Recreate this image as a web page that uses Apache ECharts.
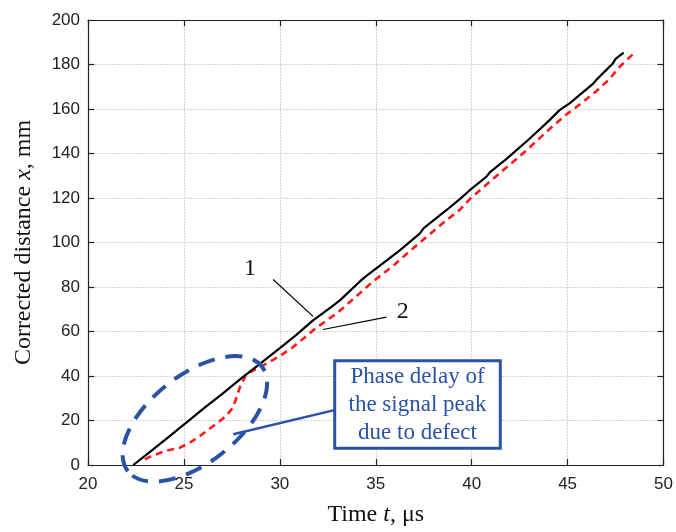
<!DOCTYPE html>
<html>
<head>
<meta charset="utf-8">
<script src="https://cdn.jsdelivr.net/npm/echarts@6/dist/echarts.min.js"></script>
<style>html,body{margin:0;padding:0;background:#fff;}#c{width:676px;height:532px;}</style>
</head>
<body>
<div id="c"></div>
<script>
// Curve 1 (black, solid): time t (µs), distance x (mm)
var t1 = [22.36, 23.0, 24.0, 25.14, 26.0, 27.0, 28.0, 28.96, 30.0, 30.86, 31.73, 32.6, 33.13, 34.17, 34.51, 35.2, 36.25, 37.29, 37.5, 38.68, 39.38, 39.9, 40.76, 40.94, 41.8, 43.0, 44.06, 44.58, 45.1, 46.32, 46.49, 47.36, 47.5, 47.92];
var x1 = [0, 4.3, 11.2, 19.2, 25.2, 32, 39, 45.5, 52.5, 58.5, 65, 70.5, 74, 82.5, 85, 89.5, 96.5, 104, 106.5, 114.5, 119.5, 123.5, 129.5, 131.5, 137.5, 146.5, 155, 159.5, 162.5, 171.3, 173, 180.5, 182.5, 185.3];
// Curve 2 (red, dashed)
var t2 = [22.97, 23.3, 24.1, 24.79, 25.3, 25.83, 26.53, 27.2, 27.57, 27.92, 28.26, 28.96, 29.5, 30.0, 30.69, 31.73, 32.6, 32.95, 34.34, 34.86, 35.9, 36.42, 37.29, 38.68, 39.38, 39.9, 41.1, 42.67, 44.06, 44.93, 45.63, 46.49, 47.19, 47.71, 48.49];
var x2 = [2.5, 4, 6.5, 7.8, 10, 13, 17.5, 22, 26, 35, 41, 44, 46.5, 49, 53, 60.5, 66, 68, 78.5, 82.5, 89.5, 93.5, 99.9, 110, 114.7, 119.5, 128.5, 140, 151, 157.5, 162, 168, 173.5, 179, 185.3];
var xTicks = [20, 25, 30, 35, 40, 45, 50];
var yTicks = [0, 20, 40, 60, 80, 100, 120, 140, 160, 180, 200];
var boxLines = ['Phase delay of', 'the signal peak', 'due to defect'];

function pairs(a, b) { return a.map(function (v, i) { return [v, b[i]]; }); }

var chart = echarts.init(document.getElementById('c'), null, {renderer: 'canvas'});
var labelFont = {fontFamily: 'Liberation Sans, Arial, sans-serif', fontSize: 17, color: '#222'};
var gridLine = {show: true, lineStyle: {color: '#d4d4d4', type: [2, 1], width: 1}};
var axisLine = {show: true, onZero: false, lineStyle: {color: '#222', width: 1.2}};
var tickIn = {show: true, inside: true, length: 6, lineStyle: {color: '#222', width: 1.2}};
var serif = 'Liberation Serif, Times New Roman, serif';
var nameStyle = {fontFamily: serif, fontSize: 24, color: '#111',
  rich: {i: {fontFamily: serif, fontStyle: 'italic', fontSize: 24, color: '#111'}}};

chart.setOption({
  animation: false,
  backgroundColor: '#fff',
  grid: {left: 88, right: 12, top: 20, bottom: 59, containLabel: false},
  xAxis: [{
    type: 'value', min: xTicks[0], max: xTicks[xTicks.length - 1], interval: 5,
    axisLine: axisLine, axisTick: tickIn, splitLine: gridLine,
    axisLabel: Object.assign({margin: 11}, labelFont),
    name: 'Time {i|t}, μs', nameLocation: 'middle', nameGap: 38, nameTextStyle: nameStyle
  }, {
    type: 'value', position: 'top', min: xTicks[0], max: xTicks[xTicks.length - 1], interval: 5,
    axisLine: axisLine, axisTick: tickIn, splitLine: {show: false}, axisLabel: {show: false}
  }],
  yAxis: [{
    type: 'value', min: yTicks[0], max: yTicks[yTicks.length - 1], interval: 20,
    axisLine: axisLine, axisTick: tickIn, splitLine: gridLine,
    axisLabel: Object.assign({margin: 8}, labelFont),
    name: 'Corrected distance {i|x}, mm', nameLocation: 'middle', nameGap: 52, nameTextStyle: nameStyle
  }, {
    type: 'value', position: 'right', min: yTicks[0], max: yTicks[yTicks.length - 1], interval: 20,
    axisLine: axisLine, axisTick: tickIn, splitLine: {show: false}, axisLabel: {show: false}
  }],
  series: [{
    type: 'line', name: '2', data: pairs(t2, x2), showSymbol: false, symbol: 'none',
    lineStyle: {color: '#ff1a1a', width: 2.6, type: [7, 5]}, z: 3
  }, {
    type: 'line', name: '1', data: pairs(t1, x1), showSymbol: false, symbol: 'none',
    lineStyle: {color: '#000', width: 2.2}, z: 4
  }]
});

function px(t, v) { return chart.convertToPixel({xAxisIndex: 0, yAxisIndex: 0}, [t, v]); }

var blue = '#2a52a6';
var c = px(25.57, 20.75);
var l1a = px(29.65, 83.4), l1b = px(31.73, 66.8);
var lab1 = px(28.44, 88.3);
var l2a = px(35.56, 66.5), l2b = px(32.25, 60.9);
var lab2 = px(36.4, 68.9);
var bTL = px(32.86, 46.9), bBR = px(41.49, 7.5);
var pA = px(27.57, 13.8), pB = px(32.95, 24.9);
var bcx = (bTL[0] + bBR[0]) / 2, bcy = (bTL[1] + bBR[1]) / 2;

var g = [
  {type: 'line', shape: {x1: l1a[0], y1: l1a[1], x2: l1b[0], y2: l1b[1]}, style: {stroke: '#000', lineWidth: 1.2}, z: 10},
  {type: 'text', x: lab1[0], y: lab1[1], style: {text: '1', font: '24px ' + serif, fill: '#111', textAlign: 'center', textVerticalAlign: 'middle'}, z: 10},
  {type: 'line', shape: {x1: l2a[0], y1: l2a[1], x2: l2b[0], y2: l2b[1]}, style: {stroke: '#000', lineWidth: 1.2}, z: 10},
  {type: 'text', x: lab2[0], y: lab2[1], style: {text: '2', font: '24px ' + serif, fill: '#111', textAlign: 'center', textVerticalAlign: 'middle'}, z: 10},
  {type: 'ellipse', x: c[0], y: c[1], rotation: 38 * Math.PI / 180, shape: {cx: 0, cy: 0, rx: 85, ry: 44},
    style: {fill: 'none', stroke: blue, lineWidth: 4, lineDash: [17, 11]}, z: 10},
  {type: 'line', shape: {x1: pA[0], y1: pA[1], x2: pB[0], y2: pB[1]}, style: {stroke: blue, lineWidth: 2.5}, z: 10},
  {type: 'rect', shape: {x: bTL[0], y: bTL[1], width: bBR[0] - bTL[0], height: bBR[1] - bTL[1]},
    style: {fill: '#fff', stroke: blue, lineWidth: 3}, z: 10}
];
boxLines.forEach(function (s, i) {
  g.push({type: 'text', x: bcx, y: bcy + (i - 1) * 28, style: {text: s, font: '23px ' + serif, fill: blue, textAlign: 'center', textVerticalAlign: 'middle'}, z: 11});
});
chart.setOption({graphic: {elements: g}});
</script>
</body>
</html>
